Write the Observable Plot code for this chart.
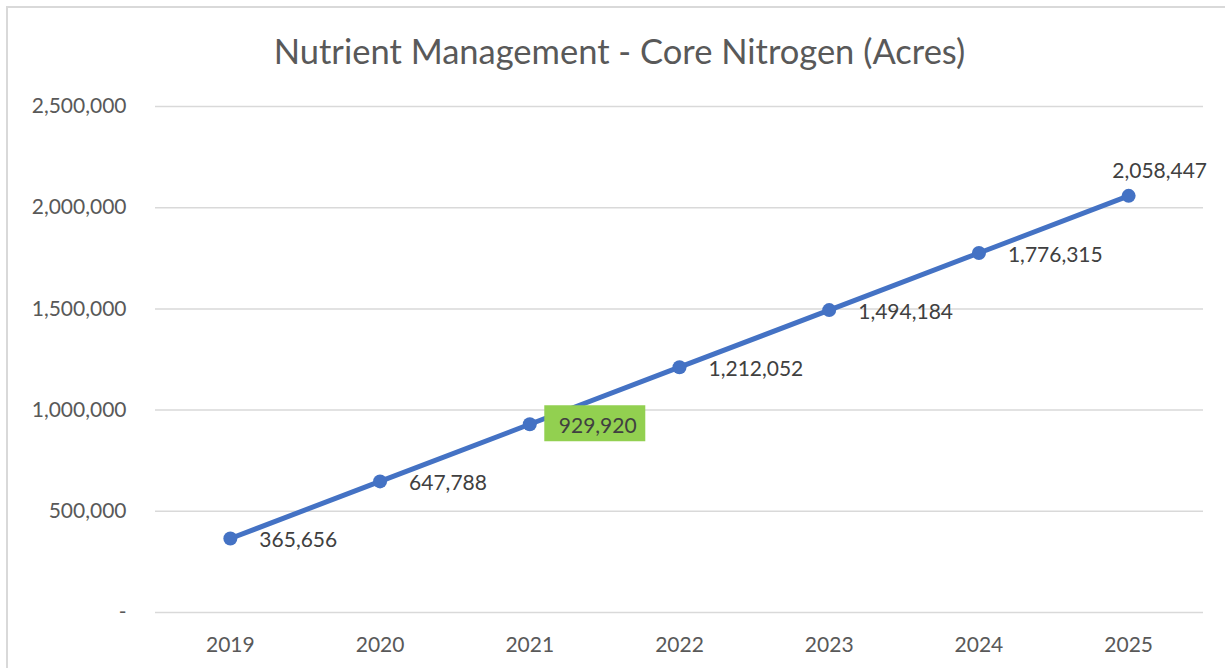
<!DOCTYPE html>
<html>
<head>
<meta charset="utf-8">
<script src="https://cdn.jsdelivr.net/npm/d3@7"></script>
<script src="https://cdn.jsdelivr.net/npm/@observablehq/plot@0.6"></script>
<style>
  html, body { margin: 0; padding: 0; background: #fff; overflow: hidden; }
  #frame {
    margin-left: 6px; margin-top: 6px;
    border-left: 2px solid #d9d9d9; border-top: 2px solid #d9d9d9;
    width: 1217px; height: 680px; box-sizing: content-box;
  }
  #title {
    height: 82px; line-height: 86px; text-align: center; padding-left: 6px;
    font-family: Lato, sans-serif; font-size: 34.5px; color: #595959;
    white-space: nowrap;
  }
  #chart svg { display: block; }
</style>
</head>
<body>
<div id="frame">
  <div id="title">Nutrient Management - Core Nitrogen (Acres)</div>
  <div id="chart"></div>
</div>
<script>
const years = ["2019", "2020", "2021", "2022", "2023", "2024", "2025"];
const acres = [365656, 647788, 929920, 1212052, 1494184, 1776315, 2058447];
const yTicks = [0, 500000, 1000000, 1500000, 2000000, 2500000];
const highlightYear = "2021";
const lastYear = "2025";

const data = years.map((y, i) => ({year: y, value: acres[i]}));
const fmt = d3.format(",");

const boxSymbol = {
  draw(ctx) { ctx.rect(-50.5, -18, 101, 36); }
};

const chart = Plot.plot({
  width: 1217,
  height: 578,
  marginLeft: 147,
  marginRight: 22,
  marginTop: 16,
  marginBottom: 56,
  style: {fontFamily: "Lato, sans-serif", fontSize: "21px", color: "#595959", background: "transparent"},
  x: {type: "point", domain: years, padding: 0.5, round: false, label: null},
  y: {domain: [0, 2500000], label: null},
  marks: [
    Plot.ruleY(yTicks, {stroke: "#d9d9d9", strokeWidth: 1.5}),
    Plot.axisY({ticks: yTicks, tickSize: 0, tickPadding: 29, tickFormat: d => d === 0 ? "-" : fmt(d), fontSize: 21, fill: "#595959"}),
    Plot.axisX({tickSize: 0, tickPadding: 25, fontSize: 21, fill: "#595959"}),
    Plot.line(data, {x: "year", y: "value", stroke: "#4472C4", strokeWidth: 5}),
    Plot.dot(data, {x: "year", y: "value", r: 7, fill: "#4472C4", stroke: "none"}),
    Plot.dot(data.filter(d => d.year === highlightYear), {x: "year", y: "value", symbol: boxSymbol, fill: "#92D050", stroke: "none", dx: 65, dy: -1}),
    Plot.text(data.filter(d => d.year !== lastYear), {x: "year", y: "value", text: d => fmt(d.value), textAnchor: "start", dx: 29, dy: 2, fill: "#404040", fontSize: 21}),
    Plot.text(data.filter(d => d.year === lastYear), {x: "year", y: "value", text: d => fmt(d.value), textAnchor: "middle", dx: 31, dy: -25, fill: "#404040", fontSize: 21})
  ]
});
document.getElementById("chart").appendChild(chart);
</script>
</body>
</html>
